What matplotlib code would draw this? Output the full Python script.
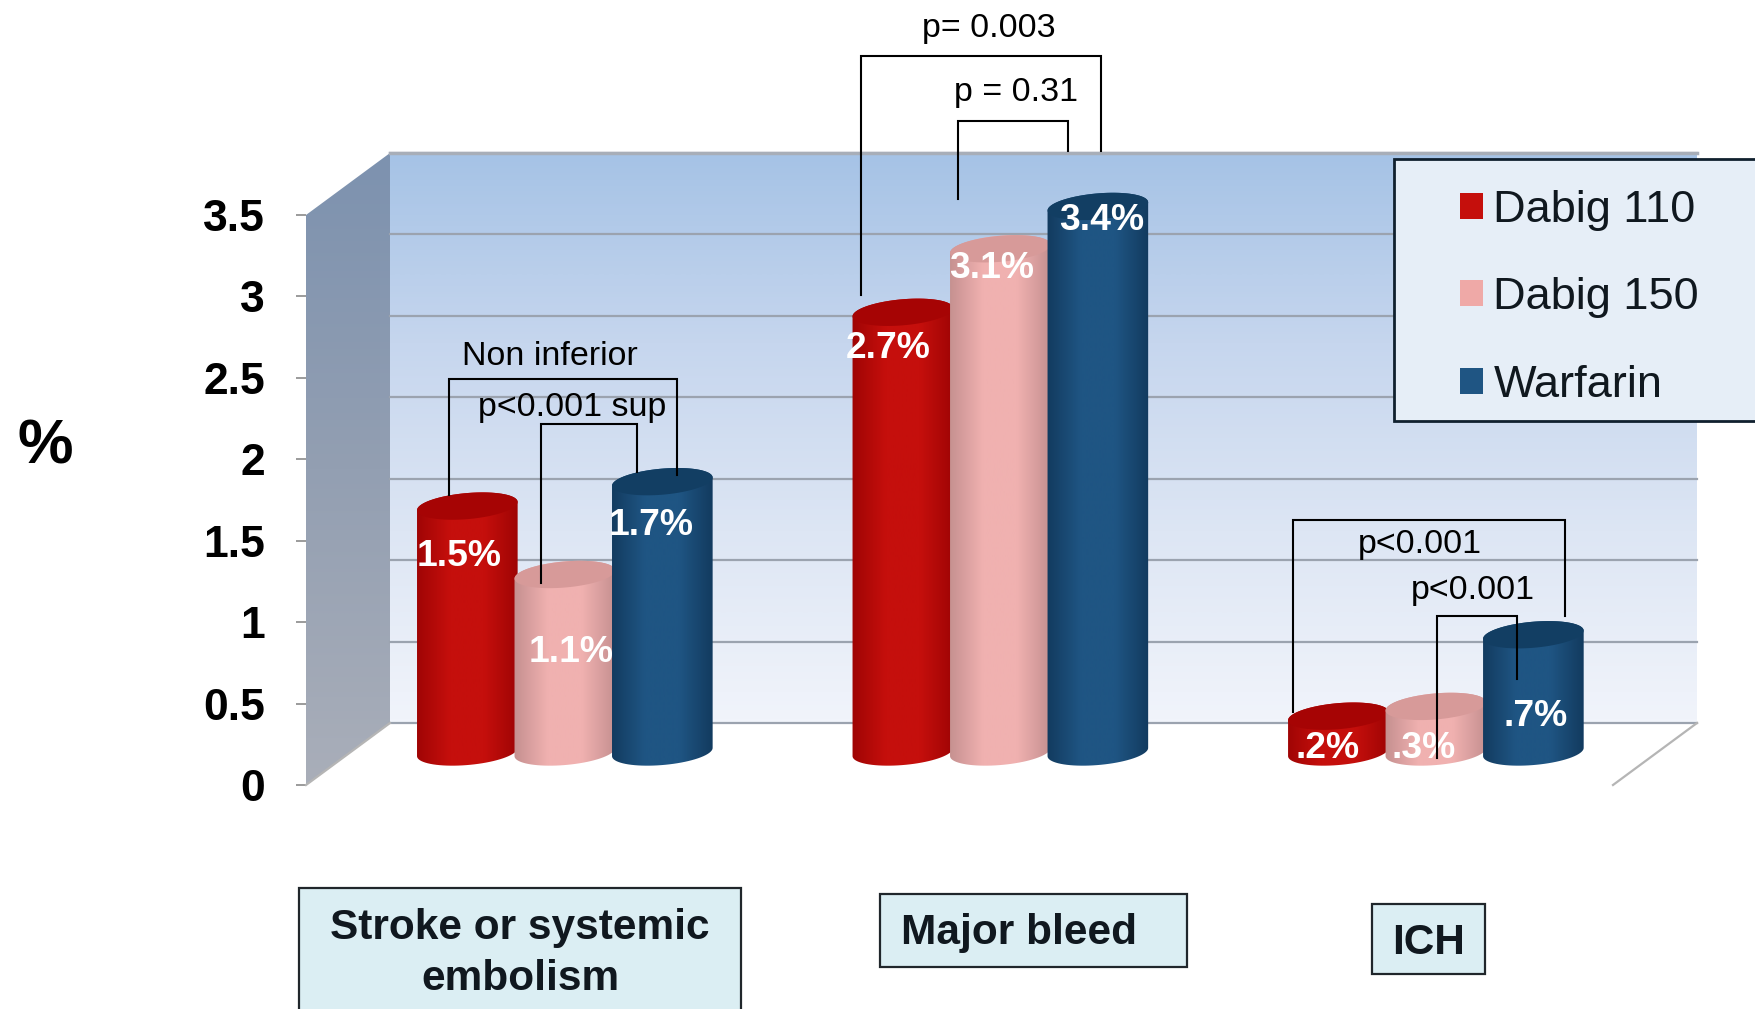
import numpy as np
import matplotlib
matplotlib.use("Agg")
import matplotlib.pyplot as plt
from matplotlib.colors import LinearSegmentedColormap
from matplotlib.patches import Polygon, Rectangle, Patch

plt.rcParams['font.family'] = ['Liberation Sans', 'DejaVu Sans']

# data
groups = ["Stroke or systemic\nembolism", "Major bleed", "ICH"]
series = ["Dabig 110", "Dabig 150", "Warfarin"]
dabig110 = [1.51, 2.70, 0.22]
dabig150 = [1.09, 3.09, 0.28]
warfarin = [1.66, 3.35, 0.72]
labels110 = ["1.5%", "2.7%", ".2%"]
labels150 = ["1.1%", "3.1%", ".3%"]
labelsw = ["1.7%", "3.4%", ".7%"]
yticks = [0, 0.5, 1, 1.5, 2, 2.5, 3, 3.5]
yticklabels = ["0", "0.5", "1", "1.5", "2", "2.5", "3", "3.5"]

# colours: edge, centre, cap
red = ["#9E0404", "#C50F0C", "#A60404"]
pink = ["#C48F8F", "#F0B1B0", "#D79A99"]
blue = ["#123A5E", "#1F5583", "#123E63"]

W, H = 1756, 1009
fig = plt.figure(figsize=(W / 100, H / 100), dpi=100)

# front plane of the chart, pixel box 306..1613 x 215..785
ax = fig.add_axes([306 / W, 1 - 785 / H, (1613 - 306) / W, (785 - 215) / H])
ax.set_xlim(-0.592, 2.409)
ax.set_ylim(0, 3.5)
xs = (1613 - 306) / (2.409 + 0.592)   # px per x unit
ys = (785 - 215) / 3.5               # px per y unit
dx = 84 / xs   # depth of the box
dy = 62 / ys
lift = 33 / ys  # bars stand half way in the box
x0, x1 = ax.get_xlim()


def gradient(ax, colors, pts, extent, vertical=True, z=1):
    cmap = LinearSegmentedColormap.from_list("g", colors)
    arr = np.linspace(0, 1, 128)
    arr = arr.reshape(-1, 1) if vertical else arr.reshape(1, -1)
    im = ax.imshow(arr, cmap=cmap, extent=extent, aspect='auto', origin='upper',
                   interpolation='bilinear', zorder=z)
    im.set_clip_path(Polygon(pts, transform=ax.transData))
    im.set_clip_box(fig.bbox)
    return im


# back wall
wall = [(x0 + dx, dy), (x1 + dx, dy), (x1 + dx, 3.5 + dy), (x0 + dx, 3.5 + dy)]
gradient(ax, ["#A6C3E6", "#C6D6EE", "#DDE6F4", "#F1F4FB"], wall, (x0 + dx, x1 + dx, dy, 3.5 + dy))
# side wall
side = [(x0, 0), (x0 + dx, dy), (x0 + dx, 3.5 + dy), (x0, 3.5)]
gradient(ax, ["#7D92AF", "#939FB2", "#A9AEB9"], side, (x0, x0 + dx, 0, 3.5 + dy))

for v in yticks:
    ax.plot([x0 + dx, x1 + dx], [v + dy, v + dy], color="#9BA3AF", lw=1.6, zorder=2, clip_on=False)
ax.plot([x0 + dx, x1 + dx], [3.5 + dy, 3.5 + dy], color="#A8AEB8", lw=2.5, zorder=2, clip_on=False)
ax.plot([x0, x0 + dx], [0, dy], color="#B5B5B5", lw=1.6, zorder=2, clip_on=False)
ax.plot([x1, x1 + dx], [0, dy], color="#B5B5B5", lw=1.6, zorder=2, clip_on=False)

a, b, tilt = 50.5, 13, np.radians(5)


def ellipse(xc, yc, t):
    ex = a * np.cos(t) * np.cos(tilt) - b * np.sin(t) * np.sin(tilt)
    ey = a * np.cos(t) * np.sin(tilt) + b * np.sin(t) * np.cos(tilt)
    return np.column_stack([xc + ex / xs, yc + ey / ys])


step = 97.5 / xs
shift = 1 / xs
z = 3
for i, (vals, col) in enumerate(zip([dabig110, dabig150, warfarin], [red, pink, blue])):
    for g, v in enumerate(vals):
        xc = g + (i - 1) * step + shift
        bottom = ellipse(xc, lift, np.linspace(np.pi, 2 * np.pi, 40))
        top = ellipse(xc, lift + v, np.linspace(0, np.pi, 40))
        body = np.vstack([bottom, top])
        gradient(ax, [col[0], col[1], col[1], col[0]], body,
                 (xc - 52 / xs, xc + 52 / xs, 0, 4), vertical=False, z=z)
        ax.add_patch(Polygon(ellipse(xc, lift + v, np.linspace(0, 2 * np.pi, 80)),
                             facecolor=col[2], edgecolor='none', zorder=z + 0.5, clip_on=False))
        z += 1

ax.set_xlim(x0, x1)
ax.set_ylim(0, 3.5)
ax.set_xticks([])
ax.set_yticks(yticks)
ax.set_yticklabels(yticklabels, fontsize=32, fontweight='bold')
ax.tick_params(axis='y', length=7, width=1.2, color="#8A8A8A", pad=22.5)
for s in ax.spines.values():
    s.set_visible(False)
ax.patch.set_visible(False)

# everything on top is laid out in picture pixels
top = fig.add_axes([0, 0, 1, 1])
top.set_xlim(0, W)
top.set_ylim(H, 0)
top.axis('off')

# data labels
label_pos = [[(459, 556.5), (888, 348.5), (1328, 748.5)],
             [(571, 653), (992, 268.5), (1424, 748.5)],
             [(651, 525.5), (1102, 220.5), (1536, 716.5)]]
for labs, pos in zip([labels110, labels150, labelsw], label_pos):
    for s, (px, py) in zip(labs, pos):
        top.text(px, py, s, color="white", fontsize=26.8, fontweight='bold', ha='center', va='center', zorder=6)

# significance brackets
brackets = [(449, 495, 379, 677, 475), (541, 583, 424, 637, 472),
            (861, 295, 56, 1101, 151), (958, 199, 121, 1068, 151),
            (1293, 712, 520, 1565, 616), (1437, 758, 616, 1517, 679)]
for xl, yl, yt, xr, yr in brackets:
    top.plot([xl, xl, xr, xr], [yl, yt, yt, yr], color="black", lw=1.5, zorder=7, solid_joinstyle='miter')

notes = [("Non inferior", 550, 356.5), ("p<0.001 sup", 572, 407.5), ("p= 0.003", 989, 28.5),
         ("p = 0.31", 1016, 92.5), ("p<0.001", 1420, 544.5), ("p<0.001", 1473, 590.5)]
for s, px, py in notes:
    top.text(px, py, s, fontsize=24.5, ha='center', va='center', color="black", zorder=8)

top.text(45, 446.5, "%", fontsize=45, fontweight='bold', ha='center', va='center')

# legend box runs off the right side
top.add_patch(Rectangle((1394, 159), 400, 262, facecolor="#E6EEF7", edgecolor="#10202E", lw=2, zorder=9))
handles = [Patch(facecolor=c[1] if c is not pink else "#EFA9A7", edgecolor='none', label=s)
           for c, s in zip([red, pink, blue], series)]
leg = top.legend(handles=handles, loc='upper left', bbox_to_anchor=(1460, 190), bbox_transform=top.transData,
                 frameon=False, fontsize=32.5, borderpad=0, borderaxespad=0, handlelength=0.51, handleheight=0.51,
                 handletextpad=0.23, labelspacing=1.03, labelcolor="#10181F")
leg.set_zorder(10)

# category boxes
boxes = [(299, 888, 442, 140), (880, 894, 307, 73), (1372, 904, 113, 70)]
texts = [(520, 953.5), (1019, 933), (1429, 942.5)]
for (bx, by, bw, bh), (tx, ty), g in zip(boxes, texts, groups):
    top.add_patch(Rectangle((bx, by), bw, bh, facecolor="#DBEEF3", edgecolor="#20262B", lw=1.6, zorder=5))
    top.text(tx, ty, g, fontsize=30.5, fontweight='bold', ha='center', va='center', linespacing=1.37, zorder=6,
             color="#10181F")

fig.savefig("out.png", dpi=100)
